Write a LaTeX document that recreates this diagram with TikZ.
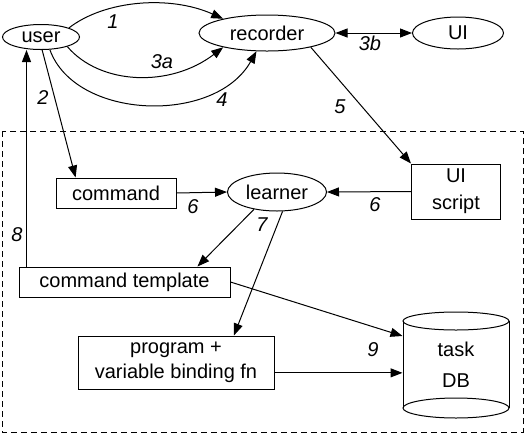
\documentclass[tikz,border=0pt]{standalone}
\usepackage{fontspec}
\setmainfont{Liberation Sans}
\usetikzlibrary{arrows.meta,shapes.geometric}
\begin{document}
\begin{tikzpicture}[x = 0.5pt, y = -0.5pt, line width = 0.5pt,
    font = \fontsize{10pt}{12.5pt}\selectfont,
    arr/.style = {-{Triangle[length=6pt, width=4.5pt]}},
    arrboth/.style = {{Triangle[length=6pt, width=4.5pt]}-{Triangle[length=6pt, width=4.5pt]}},
    oval/.style = {draw, ellipse, inner sep=0pt},
    box/.style = {draw, rectangle, inner sep=0pt, align=center},
    num/.style = {font = \fontsize{10pt}{12pt}\selectfont\itshape}]
            \useasboundingbox (0, 0) rectangle (526, 436);
            \draw [dashed, dash pattern=on 3pt off 2pt] (2, 131) rectangle (523, 432);
            \node [oval, minimum width = 38.5pt, minimum height = 12.5pt] (user) at (41, 37) {user};
            \node [oval, minimum width = 68pt, minimum height = 18pt] (recorder) at (267, 33) {recorder};
            \node [oval, minimum width = 45.5pt, minimum height = 16pt] (UI) at (458, 33) {UI};
            \node [box, minimum width = 60pt, minimum height = 15pt] (command) at (116, 193) {command};
            \node [oval, minimum width = 49.5pt, minimum height = 19pt] (learner) at (277, 192) {learner};
            \node [box, minimum width = 44.5pt, minimum height = 27.5pt] (UIscript) at (456, 191.5) {UI\\[1pt]script};
            \node [box, minimum width = 105.5pt, minimum height = 15pt] (template) at (124.5, 282) {command template};
            \node [box, minimum width = 98pt, minimum height = 26.5pt] (program) at (176, 362.5) {program +\\variable binding fn};
            \node [minimum width = 53pt, minimum height = 53pt, inner sep = 0pt, align = center] (DB) at (456, 365) {task\\[3pt]DB};
            % database cylinder
            \draw (403, 321) -- (403, 408);
            \draw (509, 321) -- (509, 408);
            \draw (456, 321) ellipse [x radius = 26.5pt, y radius = 4.5pt];
            \draw (456, 408) ellipse [x radius = 26.5pt, y radius = 5pt];
            % user and recorder
            \draw [arr] (user.18) .. controls (105, 0) and (170, -5) .. (recorder.162);
            \draw [arr] (user.-20) .. controls (100, 85) and (170, 88) .. (recorder.-162);
            \draw [arr] (user.-55) .. controls (75, 120) and (215, 125) .. (recorder.-120);
            \draw [arrboth] (recorder.east) -- (UI.west);
            \draw [arr] (recorder.-18) -- (UIscript.north west);
            \draw [arr] (user.-85) -- (command.159);
            \draw [arr] ([xshift=4pt]template.north west) -- ([xshift=4pt]template.north west |- user.south);
            % learner
            \draw [arr] (command.east) -- (learner.west);
            \draw [arr] (UIscript.west) -- (learner.east);
            \draw [arr] (learner.-143) -- (template.12);
            \draw [arr] (learner.-74) -- (program.25);
            \draw [arr] (template.east) -- ([yshift=14.5pt]DB.west);
            \draw [arr] (program.-6) -- (program.-6 -| DB.west);
            % numbers
            \node [num] (n1) at (113, 22) {1};
            \node [num] (n3a) at (162, 62) {3a};
            \node [num] (n4) at (222, 100) {4};
            \node [num] (n2) at (43, 98) {2};
            \node [num] (n3b) at (370, 43) {3b};
            \node [num] (n5) at (340, 107) {5};
            \node [num] (n6a) at (193, 207) {6};
            \node [num] (n6b) at (375, 205) {6};
            \node [num] (n7) at (262, 225) {7};
            \node [num] (n8) at (17, 235) {8};
            \node [num] (n9) at (373, 350) {9};
        \end{tikzpicture}
\end{document}
